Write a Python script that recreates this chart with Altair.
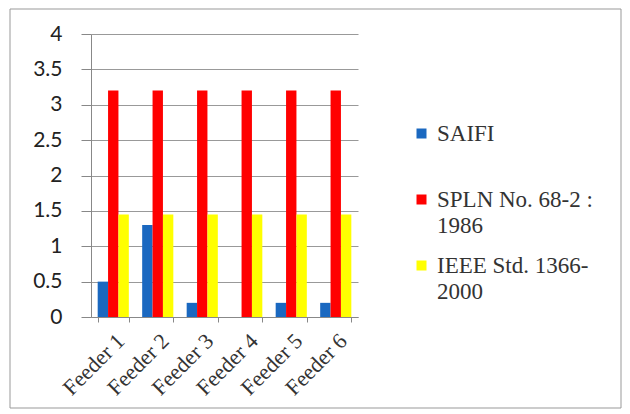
import altair as alt
import pandas as pd

feeders = ["Feeder 1", "Feeder 2", "Feeder 3", "Feeder 4", "Feeder 5", "Feeder 6"]
series = ["SAIFI\n", "SPLN No. 68-2 :\n1986", "IEEE Std. 1366-\n2000"]
saifi = [0.5, 1.3, 0.2, 0.0, 0.2, 0.2]
spln = [3.2, 3.2, 3.2, 3.2, 3.2, 3.2]
ieee = [1.45, 1.45, 1.45, 1.45, 1.45, 1.45]
colors = ["#1a68c0", "#ff0000", "#ffff00"]

rows = []
for s, vals in zip(series, [saifi, spln, ieee]):
    for f, v in zip(feeders, vals):
        rows.append({"feeder": f, "series": s, "value": v})
df = pd.DataFrame(rows)

bars = alt.Chart(df).mark_bar().encode(
    x=alt.X("feeder:N", sort=feeders, title=None,
            scale=alt.Scale(paddingInner=0.3, paddingOuter=0.15),
            axis=alt.Axis(labelAngle=-45, labelFont="Liberation Serif", labelFontSize=22,
                          labelColor="#333", domainColor="#888", tickColor="#888",
                          tickSize=5, tickBand="extent", labelPadding=8, labelOffset=0)),
    xOffset=alt.XOffset("series:N", sort=series, scale=alt.Scale(paddingInner=0, paddingOuter=0)),
    y=alt.Y("value:Q", title=None,
            scale=alt.Scale(domain=[0, 4]),
            axis=alt.Axis(values=[0, 0.5, 1, 1.5, 2, 2.5, 3, 3.5, 4], labelFont="Lato",
                          labelFontSize=21, labelColor="#222", domainColor="#888",
                          tickColor="#888", tickSize=10, labelPadding=19,
                          gridColor="#999", format="~g")),
    color=alt.Color("series:N", sort=series,
                    scale=alt.Scale(domain=series, range=colors),
                    legend=alt.Legend(title=None, orient="none", legendX=319, legendY=88,
                                      symbolType="square", symbolSize=100, symbolStrokeWidth=0,
                                      labelFont="Liberation Serif", labelFontSize=23,
                                      labelColor="#333", rowPadding=16, labelLimit=300,
                                      labelExpr="split(datum.label, '\\n')", labelOffset=4)),
)

border = alt.Chart(pd.DataFrame({"a": [0]})).mark_rect(
    fill=None, stroke="#999", strokeWidth=1
).encode(x=alt.value(-81), x2=alt.value(530), y=alt.value(-25), y2=alt.value(374))

chart = alt.layer(border, bars).properties(
    width=267, height=283, autosize="none",
    padding={"left": 83, "top": 26, "right": 264, "bottom": 92},
).configure(
    background="white", style={"guide-label": {"lineHeight": 26}}
).configure_view(strokeWidth=0)

chart.save("out.html", embed_options={"renderer": "svg", "actions": False})
